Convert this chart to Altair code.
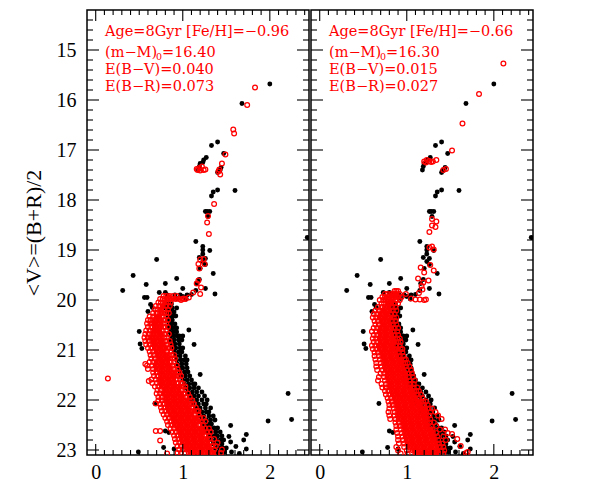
import altair as alt
import pandas as pd

SERIF = "DejaVu Serif"
AXIS_FONT = "Liberation Serif"
RED = "#ff0000"
X_DOMAIN = [-0.1, 2.45]
Y_DOMAIN = [23.1, 14.2]

X_MAJOR = [0, 1, 2]
X_MINOR = [0.1, 0.2, 0.3, 0.4, 0.5, 0.6, 0.7, 0.8, 0.9, 1.1, 1.2, 1.3, 1.4, 1.5, 1.6, 1.7, 1.8, 1.9,
           2.1, 2.2, 2.3, 2.4]
Y_MAJOR = [15, 16, 17, 18, 19, 20, 21, 22, 23]
Y_MINOR = [14.4, 14.6, 14.8, 15.2, 15.4, 15.6, 15.8, 16.2, 16.4, 16.6, 16.8, 17.2, 17.4, 17.6, 17.8,
           18.2, 18.4, 18.6, 18.8, 19.2, 19.4, 19.6, 19.8, 20.2, 20.4, 20.6, 20.8, 21.2, 21.4, 21.6, 21.8,
           22.2, 22.4, 22.6, 22.8]

# Black: observed stars, the same in both panels (colour, magnitude)
BLACK_STARS = [
    (2.0, 15.68), (1.68, 16.07), (1.40, 16.84), (1.33, 16.91), (1.47, 17.07), (1.27, 17.15), (1.24, 17.2),
    (1.23, 17.25), (1.20, 17.27), (1.19, 17.33), (1.18, 17.4), (1.44, 17.35), (1.43, 17.4), (1.41, 17.42),
    (1.40, 17.45), (1.40, 17.8), (1.60, 17.81), (1.35, 17.84), (1.33, 17.92), (1.26, 18.23), (1.28, 18.23),
    (1.31, 18.23), (1.29, 18.33), (2.43, 18.75), (1.15, 18.83), (1.23, 18.93), (1.31, 19.01), (1.23, 19.0),
    (1.23, 19.08), (1.19, 19.15), (1.26, 19.17), (0.70, 19.19), (1.23, 19.23), (1.26, 19.29), (1.20, 19.37),
    (0.43, 19.51), (1.35, 19.47), (0.93, 19.57), (1.19, 19.59), (0.58, 19.69), (0.80, 19.67), (1.16, 19.67),
    (1.0, 19.77), (1.26, 19.77), (0.31, 19.81), (0.73, 19.85), (0.80, 19.85), (1.15, 19.81), (1.37, 19.88),
    (0.56, 19.95), (0.59, 19.95), (0.82, 19.9), (0.91, 19.9), (0.97, 19.9), (1.05, 19.9), (1.10, 19.89),
    (0.93, 19.97), (1.0, 19.93), (1.04, 19.98), (0.63, 20.09), (0.65, 20.15), (0.60, 20.23), (0.50, 20.63),
    (0.51, 20.88), (0.53, 20.97), (1.07, 20.6), (1.13, 20.89), (1.20, 21.49), (0.68, 22.07), (2.21, 21.87),
    (1.98, 22.42), (2.25, 22.39), (1.55, 22.51), (1.73, 22.69), (1.70, 22.8), (1.53, 22.73), (1.55, 22.84),
    (1.61, 22.93), (1.73, 22.98), (1.56, 23.04), (1.65, 23.07), (0.49, 23.04), (1.16, 23.12),
    (0.80, 22.62), (0.84, 22.65), (0.78, 22.95), (0.90, 22.98),
]
# Black main sequence, by row of magnitude
BLACK_ROWS = [
    (20.08, [0.80, 0.84, 0.87]),
    (20.16, [0.80, 0.84, 0.88, 0.93]),
    (20.24, [0.82, 0.86, 0.90]),
    (20.32, [0.83, 0.86, 0.89, 0.92]),
    (20.40, [0.82, 0.85, 0.88]),
    (20.48, [0.84, 0.87, 0.91]),
    (20.56, [0.84, 0.88, 0.92, 0.93]),
    (20.64, [0.85, 0.89, 0.93]),
    (20.72, [0.86, 0.90, 0.94, 0.96, 1.0]),
    (20.80, [0.86, 0.90, 0.95, 0.99]),
    (20.88, [0.87, 0.91, 0.96]),
    (20.96, [0.88, 0.92, 0.97, 1.0]),
    (21.04, [0.90, 0.95, 0.99]),
    (21.12, [0.92, 0.97, 1.03]),
    (21.20, [0.93, 0.98, 1.02, 1.05]),
    (21.28, [0.94, 0.99, 1.04]),
    (21.36, [0.96, 1.0, 1.05]),
    (21.44, [0.97, 1.02, 1.06]),
    (21.52, [0.98, 1.03, 1.08]),
    (21.60, [1.0, 1.05, 1.10]),
    (21.68, [1.02, 1.07, 1.12, 1.14]),
    (21.76, [1.03, 1.08, 1.13, 1.18]),
    (21.84, [1.06, 1.11, 1.16, 1.22]),
    (21.92, [1.08, 1.13, 1.18, 1.25]),
    (22.00, [1.10, 1.16, 1.22, 1.28]),
    (22.08, [1.12, 1.18, 1.24, 1.27]),
    (22.16, [1.15, 1.20, 1.26, 1.32]),
    (22.24, [1.17, 1.22, 1.27, 1.30]),
    (22.32, [1.19, 1.24, 1.30, 1.35]),
    (22.40, [1.22, 1.27, 1.32, 1.37]),
    (22.48, [1.24, 1.29, 1.33]),
    (22.56, [1.26, 1.31, 1.36, 1.40]),
    (22.64, [1.28, 1.33, 1.38, 1.43]),
    (22.72, [1.31, 1.36, 1.40, 1.45]),
    (22.80, [1.33, 1.38, 1.43, 1.47]),
    (22.88, [1.35, 1.40, 1.45]),
    (22.96, [1.37, 1.42, 1.46, 1.50]),
    (23.04, [1.39, 1.44, 1.48]),
]

# Red: models, left panel, isolated stars
RED_L_STARS = [
    (1.83, 15.75), (1.74, 16.1), (1.58, 16.59), (1.59, 16.67), (1.49, 17.09), (1.45, 17.27), (1.42, 17.39),
    (1.41, 17.43), (1.43, 17.49), (1.16, 17.38), (1.17, 17.4), (1.19, 17.36), (1.20, 17.41), (1.22, 17.33),
    (1.24, 17.4), (1.26, 17.39), (1.36, 18.08), (1.29, 18.32), (1.28, 18.45), (1.30, 18.68), (1.20, 19.19),
    (1.24, 19.18), (1.18, 19.28), (1.25, 19.28), (1.19, 19.37), (1.18, 19.61), (1.16, 19.67), (1.21, 19.75),
    (1.12, 19.85), (1.20, 19.88), (1.07, 19.95), (0.98, 20.0), (1.01, 19.97), (0.14, 21.57), (0.57, 21.28),
    (0.61, 21.62), (0.69, 22.07), (0.69, 22.62), (0.74, 22.62), (0.74, 22.81), (0.82, 23.07), (1.0, 21.67),
]

# Red: models, left panel, main sequence by row of magnitude
RED_L_ROWS = [
    (19.92, [0.78, 0.81, 0.85, 0.89, 0.93]),
    (19.98, [0.74, 0.77, 0.81, 0.84, 0.88, 0.92, 0.96, 1.0, 1.03]),
    (20.05, [0.72, 0.75, 0.79, 0.83, 0.86]),
    (20.12, [0.69, 0.73, 0.77, 0.81, 0.85]),
    (20.19, [0.68, 0.71, 0.75, 0.79, 0.83]),
    (20.26, [0.66, 0.70, 0.74, 0.77, 0.81, 0.84]),
    (20.33, [0.62, 0.66, 0.70, 0.73, 0.77, 0.81]),
    (20.40, [0.60, 0.63, 0.67, 0.71, 0.75, 0.79, 0.83]),
    (20.47, [0.59, 0.63, 0.66, 0.70, 0.74, 0.78, 0.81]),
    (20.54, [0.60, 0.64, 0.68, 0.71, 0.75, 0.79, 0.83]),
    (20.61, [0.58, 0.62, 0.66, 0.70, 0.73, 0.77, 0.81]),
    (20.68, [0.57, 0.61, 0.65, 0.68, 0.72, 0.76, 0.80, 0.84]),
    (20.75, [0.56, 0.60, 0.63, 0.67, 0.71, 0.75, 0.79, 0.82]),
    (20.82, [0.57, 0.61, 0.65, 0.69, 0.73, 0.77, 0.81, 0.85]),
    (20.89, [0.58, 0.62, 0.66, 0.70, 0.74, 0.78, 0.82, 0.86]),
    (20.96, [0.60, 0.64, 0.68, 0.72, 0.76, 0.80, 0.84, 0.87]),
    (21.03, [0.62, 0.66, 0.70, 0.74, 0.78, 0.82, 0.86]),
    (21.10, [0.63, 0.67, 0.71, 0.75, 0.79, 0.83, 0.87, 0.90]),
    (21.17, [0.64, 0.68, 0.72, 0.76, 0.80, 0.84, 0.88, 0.91]),
    (21.24, [0.62, 0.66, 0.70, 0.74, 0.78, 0.82, 0.86, 0.90]),
    (21.31, [0.59, 0.65, 0.69, 0.73, 0.77, 0.81, 0.85, 0.89, 0.93]),
    (21.38, [0.60, 0.66, 0.70, 0.74, 0.78, 0.82, 0.86, 0.90, 0.94]),
    (21.45, [0.66, 0.70, 0.74, 0.78, 0.82, 0.86, 0.90, 0.94, 0.96]),
    (21.52, [0.67, 0.71, 0.75, 0.79, 0.83, 0.87, 0.91, 0.95, 0.98]),
    (21.59, [0.64, 0.69, 0.73, 0.77, 0.81, 0.85, 0.89, 0.93, 0.97]),
    (21.66, [0.65, 0.70, 0.74, 0.78, 0.82, 0.86, 0.90, 0.94, 0.98]),
    (21.73, [0.68, 0.72, 0.76, 0.80, 0.84, 0.88, 0.92, 0.96, 1.00, 1.03]),
    (21.80, [0.71, 0.75, 0.79, 0.83, 0.87, 0.91, 0.95, 0.99, 1.03]),
    (21.87, [0.70, 0.74, 0.78, 0.82, 0.86, 0.90, 0.94, 0.98, 1.02, 1.06]),
    (21.94, [0.72, 0.76, 0.80, 0.84, 0.88, 0.92, 0.96, 1.00, 1.04, 1.08]),
    (22.01, [0.72, 0.76, 0.80, 0.84, 0.88, 0.92, 0.96, 1.00, 1.04, 1.08, 1.11]),
    (22.08, [0.74, 0.78, 0.82, 0.86, 0.90, 0.94, 0.98, 1.02, 1.06, 1.10, 1.13]),
    (22.15, [0.75, 0.79, 0.83, 0.87, 0.91, 0.95, 0.99, 1.03, 1.07, 1.11, 1.15]),
    (22.22, [0.76, 0.80, 0.84, 0.88, 0.92, 0.96, 1.00, 1.04, 1.08, 1.12, 1.16, 1.18]),
    (22.29, [0.78, 0.82, 0.86, 0.90, 0.94, 0.98, 1.02, 1.06, 1.10, 1.14, 1.18]),
    (22.36, [0.80, 0.84, 0.88, 0.92, 0.96, 1.00, 1.04, 1.08, 1.12, 1.16, 1.20, 1.24]),
    (22.43, [0.82, 0.86, 0.90, 0.94, 0.98, 1.02, 1.06, 1.10, 1.14, 1.18, 1.22, 1.26]),
    (22.50, [0.83, 0.87, 0.91, 0.95, 0.99, 1.03, 1.07, 1.11, 1.15, 1.19, 1.23]),
    (22.57, [0.86, 0.90, 0.94, 0.98, 1.02, 1.06, 1.10, 1.14, 1.18, 1.22, 1.26, 1.30]),
    (22.64, [0.88, 0.92, 0.96, 1.00, 1.04, 1.08, 1.12, 1.16, 1.20, 1.24, 1.28, 1.32]),
    (22.71, [0.90, 0.94, 0.98, 1.02, 1.06, 1.10, 1.14, 1.18, 1.22, 1.26, 1.30]),
    (22.78, [0.91, 0.95, 0.99, 1.03, 1.07, 1.11, 1.15, 1.19, 1.23, 1.27, 1.31, 1.36]),
    (22.85, [0.92, 0.96, 1.00, 1.04, 1.08, 1.12, 1.16, 1.20, 1.24, 1.28, 1.32, 1.40]),
    (22.92, [0.94, 0.98, 1.02, 1.06, 1.10, 1.14, 1.18, 1.22, 1.26, 1.30, 1.34, 1.38]),
    (22.99, [0.96, 1.00, 1.04, 1.08, 1.12, 1.16, 1.20, 1.24, 1.28, 1.32, 1.36, 1.45]),
    (23.06, [0.94, 0.98, 1.07, 1.11, 1.15, 1.19, 1.23, 1.27, 1.31, 1.35, 1.39, 1.44]),
]

# Red: models, right panel, isolated stars
RED_R_STARS = [
    (2.11, 15.27), (1.83, 15.88), (1.64, 16.47), (1.52, 17.01), (1.34, 17.2), (1.30, 17.23), (1.26, 17.22),
    (1.20, 17.23), (1.23, 17.2), (1.28, 17.24), (1.22, 17.25), (1.45, 17.38), (1.42, 17.4), (1.29, 18.38),
    (1.34, 18.43), (1.29, 18.51), (1.33, 18.54), (1.26, 18.64), (1.29, 18.93), (1.26, 18.95), (1.31, 18.99),
    (1.27, 19.3), (1.16, 19.35), (1.31, 19.41), (1.20, 19.45), (1.13, 19.57), (1.25, 19.61), (1.19, 19.65),
    (1.18, 19.79), (1.20, 20.0), (1.15, 19.99), (1.22, 19.99), (1.10, 19.99), (1.05, 19.97), (0.99, 19.88),
    (1.17, 19.72), (1.14, 19.86), (1.52, 22.68), (1.58, 22.78), (1.62, 22.92), (1.68, 23.06), (1.70, 23.04),
]

# Red: models, right panel, main sequence by row of magnitude
RED_R_ROWS = [
    (19.82, [0.86, 0.88, 0.90]),
    (19.88, [0.75, 0.78, 0.82, 0.85, 0.88, 0.92]),
    (19.94, [0.72, 0.75, 0.79, 0.83, 0.87, 0.90, 0.94]),
    (20.00, [0.69, 0.73, 0.76, 0.80, 0.84, 0.88, 0.92]),
    (20.07, [0.71, 0.74, 0.78, 0.82, 0.86, 0.90]),
    (20.14, [0.67, 0.71, 0.75, 0.79, 0.83, 0.87]),
    (20.21, [0.64, 0.68, 0.72, 0.76, 0.80, 0.84, 0.88]),
    (20.28, [0.62, 0.66, 0.70, 0.74, 0.78, 0.82, 0.86]),
    (20.35, [0.61, 0.65, 0.69, 0.73, 0.77, 0.81, 0.85, 0.88]),
    (20.42, [0.63, 0.67, 0.71, 0.75, 0.79, 0.83, 0.87]),
    (20.49, [0.64, 0.68, 0.72, 0.76, 0.80, 0.84, 0.88]),
    (20.56, [0.62, 0.66, 0.70, 0.74, 0.78, 0.82, 0.86, 0.90]),
    (20.63, [0.60, 0.65, 0.69, 0.73, 0.77, 0.81, 0.85, 0.89]),
    (20.70, [0.62, 0.66, 0.70, 0.74, 0.78, 0.82, 0.86, 0.90]),
    (20.77, [0.61, 0.65, 0.69, 0.73, 0.77, 0.81, 0.85, 0.89, 0.92]),
    (20.84, [0.62, 0.66, 0.70, 0.74, 0.78, 0.82, 0.86, 0.90, 0.93]),
    (20.91, [0.60, 0.64, 0.68, 0.72, 0.76, 0.80, 0.84, 0.88, 0.92]),
    (20.98, [0.61, 0.65, 0.69, 0.73, 0.77, 0.81, 0.85, 0.89, 0.93, 0.95]),
    (21.05, [0.63, 0.67, 0.71, 0.75, 0.79, 0.83, 0.87, 0.91, 0.95]),
    (21.12, [0.63, 0.68, 0.72, 0.76, 0.80, 0.84, 0.88, 0.92, 0.96]),
    (21.19, [0.64, 0.69, 0.73, 0.77, 0.81, 0.85, 0.89, 0.93, 0.97, 0.99]),
    (21.26, [0.65, 0.70, 0.74, 0.78, 0.82, 0.86, 0.90, 0.94, 0.98, 1.01]),
    (21.33, [0.65, 0.71, 0.75, 0.79, 0.83, 0.87, 0.91, 0.95, 0.99, 1.03]),
    (21.40, [0.66, 0.72, 0.76, 0.80, 0.84, 0.88, 0.92, 0.96, 1.00, 1.05]),
    (21.47, [0.70, 0.74, 0.78, 0.82, 0.86, 0.90, 0.94, 0.98, 1.02, 1.06]),
    (21.54, [0.68, 0.74, 0.78, 0.82, 0.86, 0.90, 0.94, 0.98, 1.02, 1.07]),
    (21.61, [0.67, 0.75, 0.79, 0.83, 0.87, 0.91, 0.95, 0.99, 1.03, 1.09]),
    (21.68, [0.71, 0.76, 0.80, 0.84, 0.88, 0.92, 0.96, 1.00, 1.04, 1.08]),
    (21.75, [0.72, 0.76, 0.80, 0.84, 0.88, 0.92, 0.96, 1.00, 1.04, 1.08, 1.12]),
    (21.82, [0.75, 0.79, 0.83, 0.87, 0.91, 0.95, 0.99, 1.03, 1.07, 1.11, 1.14]),
    (21.89, [0.76, 0.80, 0.84, 0.88, 0.92, 0.96, 1.00, 1.04, 1.08, 1.12, 1.16]),
    (21.96, [0.78, 0.82, 0.86, 0.90, 0.94, 0.98, 1.02, 1.06, 1.10, 1.14, 1.18]),
    (22.03, [0.79, 0.83, 0.87, 0.91, 0.95, 0.99, 1.03, 1.07, 1.11, 1.15, 1.19, 1.22]),
    (22.10, [0.80, 0.84, 0.88, 0.92, 0.96, 1.00, 1.04, 1.08, 1.12, 1.16, 1.20, 1.24]),
    (22.17, [0.80, 0.85, 0.89, 0.93, 0.97, 1.01, 1.05, 1.09, 1.13, 1.17, 1.21, 1.25, 1.29]),
    (22.24, [0.79, 0.86, 0.90, 0.94, 0.98, 1.02, 1.06, 1.10, 1.14, 1.18, 1.22, 1.27, 1.33]),
    (22.31, [0.80, 0.86, 0.90, 0.94, 0.98, 1.02, 1.06, 1.10, 1.14, 1.18, 1.22, 1.26, 1.36]),
    (22.38, [0.81, 0.87, 0.91, 0.95, 0.99, 1.03, 1.07, 1.11, 1.15, 1.19, 1.23, 1.27, 1.40]),
    (22.45, [0.87, 0.91, 0.95, 0.99, 1.03, 1.07, 1.11, 1.15, 1.19, 1.23, 1.27, 1.31]),
    (22.52, [0.88, 0.92, 0.96, 1.00, 1.04, 1.08, 1.12, 1.16, 1.20, 1.24, 1.28, 1.34]),
    (22.59, [0.88, 0.93, 0.97, 1.01, 1.05, 1.09, 1.13, 1.17, 1.21, 1.25, 1.29, 1.38, 1.44]),
    (22.66, [0.89, 0.94, 0.98, 1.02, 1.06, 1.10, 1.14, 1.18, 1.22, 1.26, 1.30, 1.34, 1.47]),
    (22.73, [0.90, 0.95, 0.99, 1.03, 1.07, 1.11, 1.15, 1.19, 1.23, 1.27, 1.31, 1.35, 1.42]),
    (22.80, [0.90, 0.96, 1.00, 1.04, 1.08, 1.12, 1.16, 1.20, 1.24, 1.28, 1.32, 1.36, 1.45]),
    (22.87, [0.91, 0.97, 1.01, 1.05, 1.09, 1.13, 1.17, 1.21, 1.25, 1.29, 1.33, 1.37, 1.41]),
    (22.94, [0.88, 0.97, 1.02, 1.06, 1.10, 1.14, 1.18, 1.22, 1.26, 1.30, 1.34, 1.38, 1.42]),
    (23.01, [0.90, 1.00, 1.07, 1.11, 1.15, 1.19, 1.23, 1.27, 1.31, 1.35, 1.39, 1.43]),
    (23.07, [0.93, 1.01, 1.10, 1.14, 1.18, 1.22, 1.26, 1.30, 1.34, 1.38, 1.42]),
]

LABELS_L = ["Age=8Gyr [Fe/H]=\u22120.96", "(m\u2212M)", "E(B\u2212V)=0.040", "E(B\u2212R)=0.073"]
LABELS_R = ["Age=8Gyr [Fe/H]=\u22120.66", "(m\u2212M)", "E(B\u2212V)=0.015", "E(B\u2212R)=0.027"]
MODULUS_L = "=16.40"
MODULUS_R = "=16.30"

W, H = 222, 445
xs = alt.Scale(domain=X_DOMAIN, nice=False, zero=False)
ys = alt.Scale(domain=Y_DOMAIN, nice=False, zero=False)


def stars_df(stars, rows=(), trim=0):
    pts = list(stars)
    for m, colours in rows:
        inner = colours[trim:len(colours) - trim]
        pts += [(c, m) for c in inner]
    return pd.DataFrame(pts, columns=["c", "v"])


def panel(red_stars, red_rows, labels, modulus, show_y):
    y_axis = alt.Axis(
        values=Y_MAJOR, title="<V>=(B+R)/2", ticks=False, domain=False, grid=False, format="d",
        labelFont=AXIS_FONT, labelFontSize=20, labelColor="black", labelPadding=11,
        titleFont=AXIS_FONT, titleFontSize=22, titleFontWeight="normal", titleColor="black", titlePadding=11,
    ) if show_y else None
    x_axis = alt.Axis(
        values=X_MAJOR, title=None, ticks=False, domain=False, grid=False, format="d", labelAngle=0,
        labelFont=AXIS_FONT, labelFontSize=20, labelColor="black", labelPadding=7,
    )
    X = alt.X("c:Q", scale=xs, axis=x_axis)
    Y = alt.Y("v:Q", scale=ys, axis=y_axis)

    def xrule(vals, y1, y2):
        return alt.Chart(pd.DataFrame({"c": vals})).mark_rule(color="black", strokeWidth=1.1).encode(
            x=X, y=alt.value(y1), y2=alt.value(y2))

    def yrule(vals, x1, x2):
        return alt.Chart(pd.DataFrame({"v": vals})).mark_rule(color="black", strokeWidth=1.1).encode(
            y=Y, x=alt.value(x1), x2=alt.value(x2))

    def label(text, x, y, size=14.5):
        return alt.Chart(pd.DataFrame({"t": [text]})).mark_text(
            font=SERIF, fontSize=size, color=RED, align="left", baseline="alphabetic"
        ).encode(x=alt.value(x), y=alt.value(y), text="t:N")

    black = alt.Chart(stars_df(BLACK_STARS, BLACK_ROWS)).mark_point(
        filled=True, color="black", size=24, opacity=1, clip=True
    ).encode(x=X, y=Y)
    red = alt.Chart(stars_df(red_stars, red_rows)).mark_point(
        filled=False, color=RED, size=22, strokeWidth=1.3, opacity=1, clip=True
    ).encode(x=X, y=Y)
    # the overlapping rings of the crowded core merge into solid red
    core = alt.Chart(stars_df([], red_rows, trim=2)).mark_point(
        filled=True, color=RED, size=11, opacity=1, clip=True
    ).encode(x=X, y=Y)
    layers = [
        black, red, core,
        xrule(X_MAJOR, 0, 11), xrule(X_MINOR, 0, 5),
        xrule(X_MAJOR, H, H - 11), xrule(X_MINOR, H, H - 5),
        yrule(Y_MAJOR, 0, 12), yrule(Y_MINOR, 0, 6),
        yrule(Y_MAJOR, W, W - 12), yrule(Y_MINOR, W, W - 6),
        label(labels[0], 18, 26),
        label(labels[1], 18, 47),
        label("0", 69, 50, 9.5),
        label(modulus, 75, 47),
        label(labels[2], 18, 64),
        label(labels[3], 18, 81),
    ]
    return alt.layer(*layers).properties(width=W, height=H)


chart = alt.hconcat(
    panel(RED_L_STARS, RED_L_ROWS, LABELS_L, MODULUS_L, True),
    panel(RED_R_STARS, RED_R_ROWS, LABELS_R, MODULUS_R, False),
    spacing=-2,
).properties(
    padding={"left": 13, "top": 0, "right": 0, "bottom": 0}, background="white"
).configure_view(stroke="black", strokeWidth=1.5)

chart.save("out.html", embed_options={"renderer": "svg", "actions": False})
